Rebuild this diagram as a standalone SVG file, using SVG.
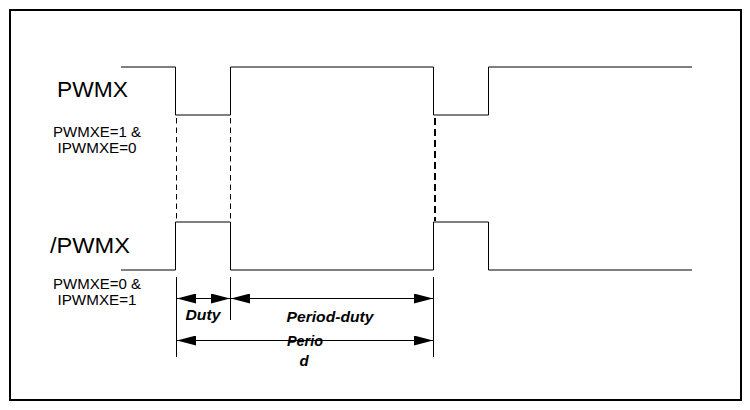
<svg xmlns="http://www.w3.org/2000/svg" width="750" height="410" viewBox="0 0 750 410">
  <style>
    .wave { fill: none; stroke: #000; stroke-width: 1; }
    .dash { fill: none; stroke: #000; stroke-width: 1; stroke-dasharray: 5.5 4; }
    .dashb { fill: none; stroke: #000; stroke-width: 2; stroke-dasharray: 7 4; }
    .tick { fill: none; stroke: #000; stroke-width: 1; }
    .dim { fill: none; stroke: #000; stroke-width: 1; marker-start: url(#ah); marker-end: url(#ah); }
    .big { font-family: "Liberation Sans", Arial, sans-serif; font-size: 22px; fill: #000; }
    .small { font-family: "Liberation Sans", Arial, sans-serif; font-size: 14px; fill: #000; text-anchor: middle; }
    .dl { font-family: "Liberation Sans", Arial, sans-serif; font-size: 15px; font-weight: bold; font-style: italic; fill: #000; text-anchor: middle; }
  </style>
  <defs>
    <marker id="ah" markerUnits="userSpaceOnUse" markerWidth="19" markerHeight="10" viewBox="0 0 19 10" refX="19" refY="5" orient="auto-start-reverse">
      <path d="M0,0 L19,5 L0,10 Z" fill="#000"/>
    </marker>
  </defs>
  <rect x="0" y="0" width="750" height="410" fill="#fff"/>
  <rect id="frame" x="10" y="10" width="731" height="390" fill="none" stroke="#000" stroke-width="2"/>

  <g id="pwmx">
    <path class="wave" d="M121 67 H175.5 V115 H230.5 V67 H433.5 V115 H488.5 V67 H692"/>
    <text class="big" x="57" y="97" textLength="71" lengthAdjust="spacingAndGlyphs">PWMX</text>
    <text class="small" x="97" y="137" textLength="88" lengthAdjust="spacingAndGlyphs">PWMXE=1 &amp;</text>
    <text class="small" x="97" y="153" textLength="79" lengthAdjust="spacingAndGlyphs">IPWMXE=0</text>
  </g>

  <g id="npwmx">
    <path class="wave" d="M121 270 H175.5 V222 H230.5 V270 H433.5 V222 H488.5 V270 H692"/>
    <text class="big" x="50" y="253" textLength="80" lengthAdjust="spacingAndGlyphs">/PWMX</text>
    <text class="small" x="97" y="289" textLength="88" lengthAdjust="spacingAndGlyphs">PWMXE=0 &amp;</text>
    <text class="small" x="97" y="305" textLength="79" lengthAdjust="spacingAndGlyphs">IPWMXE=1</text>
  </g>

  <g id="guides">
    <line class="dash" x1="176.5" y1="118" x2="176.5" y2="221"/>
    <line class="dash" x1="230.5" y1="118" x2="230.5" y2="221"/>
    <line class="dashb" x1="435" y1="118" x2="435" y2="221"/>
    <line class="tick" x1="176.5" y1="277" x2="176.5" y2="357"/>
    <line class="tick" x1="230.5" y1="277" x2="230.5" y2="320"/>
    <line class="tick" x1="433.5" y1="277" x2="433.5" y2="357"/>
  </g>

  <g id="connectors">
    <line class="dim" x1="177" y1="298.5" x2="230" y2="298.5"/>
    <line class="dim" x1="231" y1="298.5" x2="433" y2="298.5"/>
    <line class="dim" x1="177" y1="340.5" x2="433" y2="340.5"/>
  </g>

  <g id="labels">
    <text class="dl" x="203" y="320" textLength="35" lengthAdjust="spacingAndGlyphs">Duty</text>
    <text class="dl" x="330" y="322" textLength="87" lengthAdjust="spacingAndGlyphs">Period-duty</text>
    <text class="dl" x="305" y="346" textLength="36" lengthAdjust="spacingAndGlyphs">Perio</text>
    <text class="dl" x="304" y="366">d</text>
  </g>
</svg>
